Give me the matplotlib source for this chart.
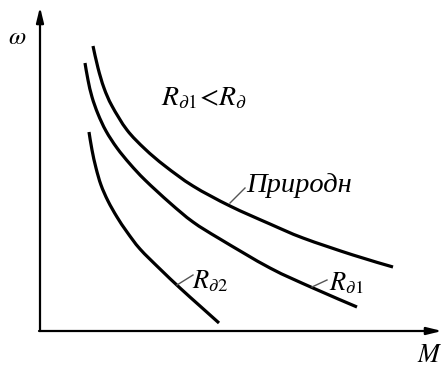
import matplotlib
matplotlib.use("Agg")
import matplotlib.pyplot as plt
from matplotlib.path import Path
from matplotlib.patches import PathPatch

plt.rcParams['mathtext.fontset'] = 'stix'

# Speed-torque characteristics: torque M vs angular speed omega
natural_M = [53, 58, 64, 72, 87, 105, 125, 153, 190, 230, 263, 313, 353]
natural_w = [285, 263, 243, 225, 201, 182, 165, 145, 125, 107, 93, 76, 64]

rd1_M = [45, 48, 52, 58, 66, 77, 90, 105, 130, 153, 180, 230, 273, 317]
rd1_w = [268, 251, 234, 217, 200, 183, 167, 151, 128, 109, 92, 63, 43, 24]

rd2_M = [49, 52, 56, 61, 68, 77, 87, 100, 120, 140, 160, 179]
rd2_w = [199, 181, 163, 146, 130, 114, 99, 82, 62, 43, 25, 8]


def smooth_path(xs, ys):
    """Cubic Bezier path passing through every given point (Catmull-Rom tangents)."""
    pts = list(zip(xs, ys))
    verts = [pts[0]]
    codes = [Path.MOVETO]
    n = len(pts)
    for i in range(n - 1):
        p0 = pts[i - 1] if i > 0 else pts[i]
        p1 = pts[i]
        p2 = pts[i + 1]
        p3 = pts[i + 2] if i + 2 < n else pts[i + 1]
        c1 = (p1[0] + (p2[0] - p0[0]) / 6, p1[1] + (p2[1] - p0[1]) / 6)
        c2 = (p2[0] - (p3[0] - p1[0]) / 6, p2[1] - (p3[1] - p1[1]) / 6)
        verts += [c1, c2, p2]
        codes += [Path.CURVE4] * 3
    return Path(verts, codes)


fig = plt.figure(figsize=(4.44, 3.68), dpi=100)
ax = fig.add_axes([0, 0, 1, 1])
ax.set_xlim(-40, 404)
ax.set_ylim(-37, 331)
ax.axis('off')

for xs, ys in [(natural_M, natural_w), (rd1_M, rd1_w), (rd2_M, rd2_w)]:
    ax.add_patch(PathPatch(smooth_path(xs, ys), facecolor='none', edgecolor='black',
                           lw=2.3, capstyle='butt', joinstyle='round'))

# coordinate axes with arrow heads
arrow = dict(arrowstyle='-|>,head_length=0.9,head_width=0.22', color='black',
             lw=1.6, shrinkA=0, shrinkB=0)
ax.annotate('', xy=(0, 324), xytext=(0, 0), arrowprops=arrow)
ax.annotate('', xy=(402, 0), xytext=(-1, 0), arrowprops=arrow)

serif_it = dict(family='Liberation Serif', style='italic', color='black')
ax.text(-23, 294, r'$\omega$', fontsize=18, ha='center', va='center')
ax.text(390, -24, r'$M$', fontsize=19, ha='center', va='center')

# leader lines
leader = dict(color='#555555', lw=1.0)
ax.plot([190, 205], [128, 143], **leader)
ax.plot([272, 287], [44, 51], **leader)
ax.plot([137, 153], [46, 56], **leader)

ax.text(206, 139, 'Природн', fontsize=20.5, ha='left', va='baseline', **serif_it)
ax.text(289, 41, r'$R_{\partial\mathit{1}}$', fontsize=19, ha='left', va='baseline')
ax.text(152, 43, r'$R_{\partial\mathit{2}}$', fontsize=19, ha='left', va='baseline')
ax.text(121, 226, r'$R_{\partial\mathit{1}}\!<\!R_{\partial}$', fontsize=20,
        ha='left', va='baseline')

fig.savefig('out.png', dpi=100)
